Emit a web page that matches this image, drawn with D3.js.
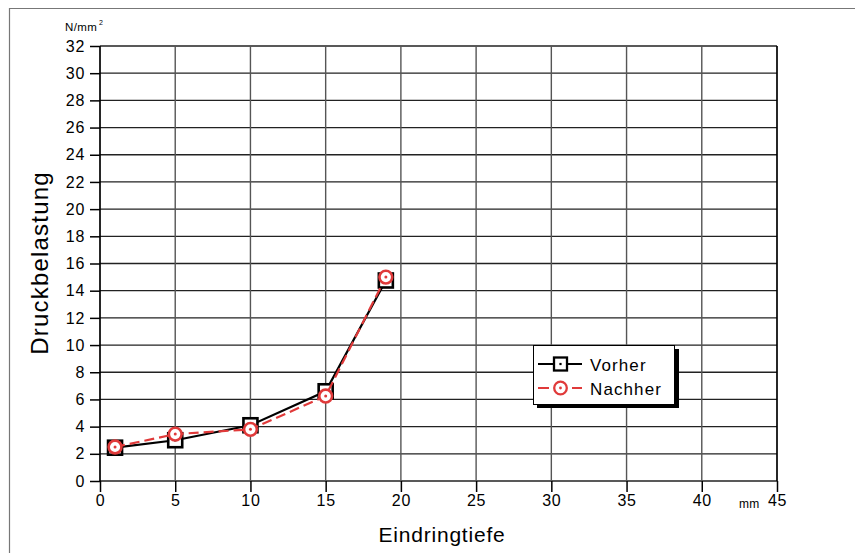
<!DOCTYPE html>
<html><head><meta charset="utf-8">
<script src="https://cdn.jsdelivr.net/npm/d3@7"></script>
<style>body{margin:0;background:#fff}svg{display:block;font-family:"Liberation Sans",Arial,sans-serif}</style>
</head><body>
<svg id="c" width="855" height="553"></svg>
<script>
const depth = [1, 5, 10, 15, 19];
const vorher = [2.45, 3.0, 4.1, 6.6, 14.75];
const nachher = [2.5, 3.45, 3.8, 6.25, 15.0];
const xTicks = [0, 5, 10, 15, 20, 25, 30, 35, 40, 45];
const yTicks = d3.range(0, 33, 2);
const seriesNames = ["Vorher", "Nachher"];

const FONT = "Liberation Sans, Arial, sans-serif";
const svg = d3.select("#c");
const x = d3.scaleLinear().domain([0, 45]).range([100, 777]);
const y = d3.scaleLinear().domain([0, 32]).range([481, 46]);

// outer frame
svg.append("path").attr("d", "M9.5,553 V8.5 H855").attr("fill", "none").attr("stroke", "#777").attr("stroke-width", 1.2);

// grid
const g = svg.append("g");
g.selectAll(".hg").data(yTicks).join("line")
  .attr("x1", x(0)).attr("x2", x(45)).attr("y1", d => y(d)).attr("y2", d => y(d))
  .attr("stroke", "#222").attr("stroke-width", 1.3);
g.selectAll(".vg").data(xTicks).join("line")
  .attr("y1", y(0)).attr("y2", y(32)).attr("x1", d => x(d)).attr("x2", d => x(d))
  .attr("stroke", d => (d === 0 || d === 45) ? "#000" : "#555").attr("stroke-width", d => (d === 0 || d === 45) ? 1.7 : 1.4);

// axes
const yAxis = d3.axisLeft(y).tickValues(yTicks).tickSize(10).tickPadding(5);
const ya = svg.append("g").attr("transform", `translate(${x(0)},0)`).call(yAxis);
ya.select(".domain").remove();
ya.selectAll("text").attr("font-size", 16).attr("letter-spacing", 0.7).attr("fill", "#000").attr("font-family", FONT);
ya.selectAll("line").attr("stroke", "#000").attr("stroke-width", 1.5);

const xAxis = d3.axisBottom(x).tickValues(xTicks).tickSize(11).tickPadding(3);
const xa = svg.append("g").attr("transform", `translate(0,${y(0)})`).call(xAxis);
xa.select(".domain").remove();
xa.selectAll("text").attr("font-size", 16).attr("letter-spacing", 0.7).attr("fill", "#000").attr("font-family", FONT);
xa.selectAll("line").attr("stroke", "#000").attr("stroke-width", 1.5);

// units
svg.append("text").attr("x", 65).attr("y", 31).attr("font-size", 11.5).attr("letter-spacing", 0.4).attr("fill", "#000").text("N/mm");
svg.append("text").attr("x", 99).attr("y", 25).attr("font-size", 7).attr("fill", "#000").text("2");
svg.append("text").attr("x", 739).attr("y", 508).attr("font-size", 12).attr("letter-spacing", 0.3).attr("fill", "#000").text("mm");

// axis titles
svg.append("text").attr("transform", "translate(48,263) rotate(-90)").attr("text-anchor", "middle")
  .attr("font-size", 24).attr("letter-spacing", 1.2).attr("fill", "#000").text("Druckbelastung");
svg.append("text").attr("x", 442).attr("y", 542).attr("text-anchor", "middle")
  .attr("font-size", 21).attr("letter-spacing", 0.8).attr("fill", "#000").text("Eindringtiefe");

const red = "#e03a3a";
const line = d3.line().x(d => x(d[0])).y(d => y(d[1]));
const vData = depth.map((d, i) => [d, vorher[i]]);
const nData = depth.map((d, i) => [d, nachher[i]]);

svg.append("path").datum(vData).attr("d", line).attr("fill", "none").attr("stroke", "#000").attr("stroke-width", 2.2);
svg.selectAll(".sq").data(vData).join("rect")
  .attr("x", d => x(d[0]) - 7).attr("y", d => y(d[1]) - 7).attr("width", 14).attr("height", 14)
  .attr("fill", "#fff").attr("stroke", "#000").attr("stroke-width", 2.6);
svg.selectAll(".sqd").data(vData).join("rect")
  .attr("x", d => x(d[0]) - 1.2).attr("y", d => y(d[1]) - 1.2).attr("width", 2.4).attr("height", 2.4).attr("fill", "#000");

svg.append("path").datum(nData).attr("d", line).attr("fill", "none").attr("stroke", red).attr("stroke-width", 2.2).attr("stroke-dasharray", "10,5");
svg.selectAll(".ci").data(nData).join("circle")
  .attr("cx", d => x(d[0])).attr("cy", d => y(d[1])).attr("r", 6.4)
  .attr("fill", "#fff").attr("stroke", red).attr("stroke-width", 2.6);
svg.selectAll(".cid").data(nData).join("circle")
  .attr("cx", d => x(d[0])).attr("cy", d => y(d[1])).attr("r", 1.5).attr("fill", red);

// legend
const lg = svg.append("g");
lg.append("rect").attr("x", 537).attr("y", 349).attr("width", 142).attr("height", 59).attr("fill", "#000");
lg.append("rect").attr("x", 533.5).attr("y", 345.5).attr("width", 141).attr("height", 59).attr("fill", "#fff").attr("stroke", "#000").attr("stroke-width", 1);
const ly = [364, 388];
// Vorher entry
lg.append("line").attr("x1", 538).attr("x2", 582).attr("y1", ly[0]).attr("y2", ly[0]).attr("stroke", "#000").attr("stroke-width", 2);
lg.append("rect").attr("x", 554).attr("y", ly[0] - 6.5).attr("width", 13).attr("height", 13).attr("fill", "#fff").attr("stroke", "#000").attr("stroke-width", 2.3);
lg.append("rect").attr("x", 559.4).attr("y", ly[0] - 1.1).attr("width", 2.2).attr("height", 2.2).attr("fill", "#000");
// Nachher entry
[[538, 549], [572, 582]].forEach(s => lg.append("line").attr("x1", s[0]).attr("x2", s[1]).attr("y1", ly[1]).attr("y2", ly[1]).attr("stroke", red).attr("stroke-width", 2));
lg.append("circle").attr("cx", 560.5).attr("cy", ly[1]).attr("r", 6.3).attr("fill", "#fff").attr("stroke", red).attr("stroke-width", 2.3);
lg.append("circle").attr("cx", 560.5).attr("cy", ly[1]).attr("r", 1.4).attr("fill", red);
lg.selectAll(".lt").data(seriesNames).join("text")
  .attr("x", 590).attr("y", (d, i) => ly[i] + 7).attr("font-size", 17).attr("letter-spacing", 1.1).attr("fill", "#000").text(d => d);
</script>
</body></html>
